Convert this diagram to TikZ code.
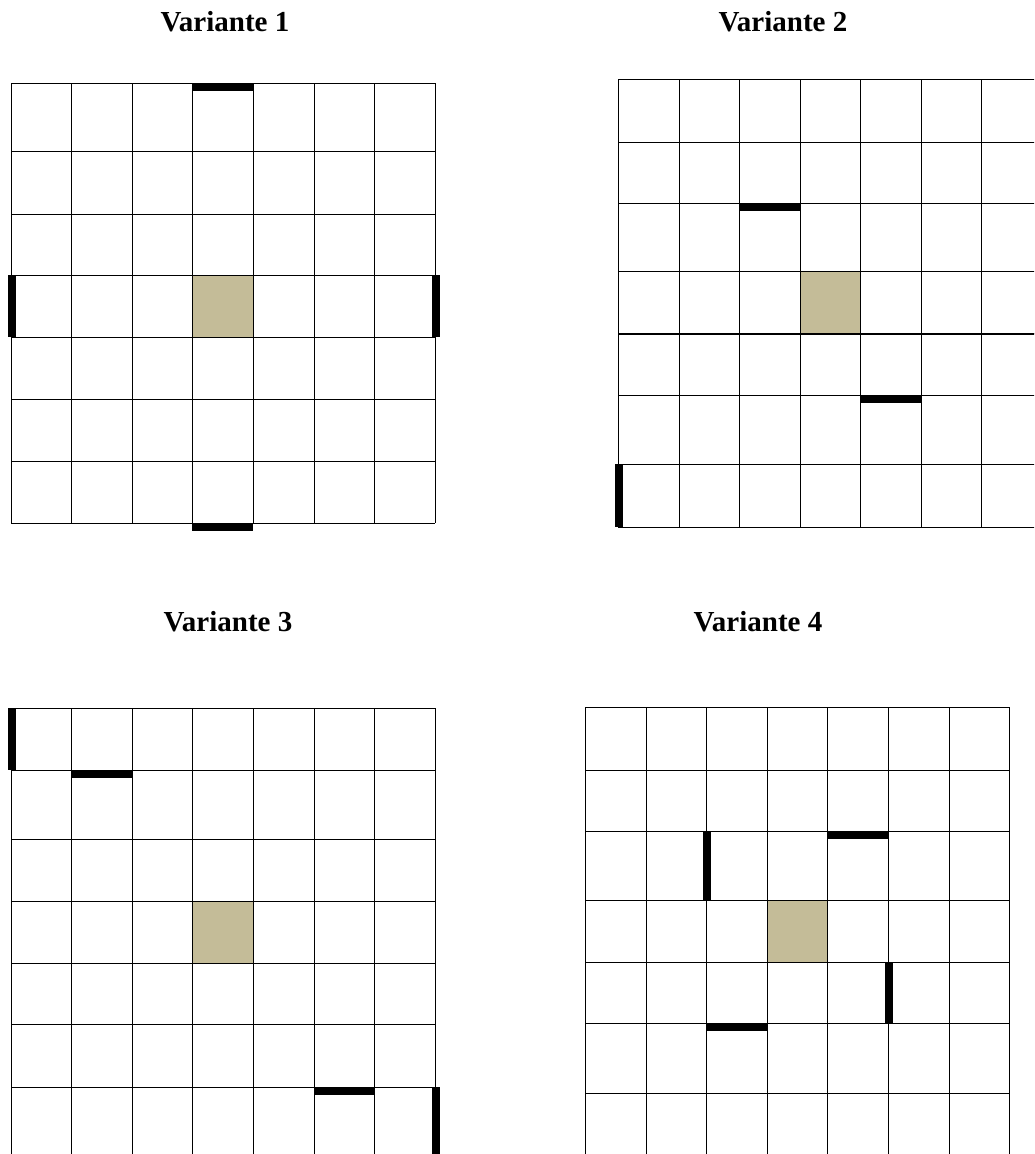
\documentclass[tikz,border=0pt]{standalone}
\usepackage{fontspec}
\setmainfont{Liberation Serif}
\definecolor{tan}{RGB}{196,188,152}
\tikzset{
  gridline/.style={line width=1pt, black},
  heavyline/.style={line width=2pt, black},
  wallbar/.style={fill=black, draw=none},
  goalcell/.style={fill=tan, draw=none},
  title/.style={anchor=base, inner sep=0pt, font=\bfseries\fontsize{29}{29}\selectfont}
}
\newcommand{\drawgridlines}[2]{%
  \def\xs{#1}\def\ys{#2}%
  \foreach \x in \xs {\foreach \y [count=\i] in \ys {\ifnum\i=1 \xdef\ytop{\y}\fi \xdef\ybot{\y}}%
     \draw[gridline] (\x,\ytop) -- (\x,\ybot);}%
  \foreach \y in \ys {\foreach \x [count=\i] in \xs {\ifnum\i=1 \xdef\xleft{\x}\fi \xdef\xright{\x}}%
     \draw[gridline] (\xleft,\y) -- (\xright,\y);}%
}
\begin{document}
\begin{tikzpicture}[x=1pt, y=-1pt]
\useasboundingbox (0,0) rectangle (1034,1154);
\clip (0,0) rectangle (1034,1154);
\fill[white] (0,0) rectangle (1034,1154);

% titles
\node[title] (t1) at (225,31.7) {Variante 1};
\node[title] (t2) at (783,31.7) {Variante 2};
\node[title] (t3) at (228,631) {Variante 3};
\node[title] (t4) at (758,631) {Variante 4};

% goal cells
\fill[goalcell] (192.3,275.3) rectangle (253.3,337);
\fill[goalcell] (800.3,271.3) rectangle (860.3,333.7);
\fill[goalcell] (192.3,901.3) rectangle (253.3,963.3);
\fill[goalcell] (767.3,900.3) rectangle (827.3,962.3);

% grids
\drawgridlines{11.3,71.3,132.3,192.3,253.3,314.3,374.3,435.3}{83.3,151,214.3,275.3,337,399.3,461.3,523}
\drawgridlines{618.3,679.3,739.3,800.3,860.3,921.3,981.3,1042}{79.3,142,203.3,271.3,333.7,395,464,527}
\drawgridlines{11.3,71.3,132.3,192.3,253.3,314.3,374.3,435.3}{708.3,770.3,839.3,901.3,963.3,1024.3,1087.3,1160}
\drawgridlines{585.3,646.3,706.3,767.3,827.3,888.3,949.3,1009.3}{707.3,770.3,831.3,900.3,962.3,1023.3,1093.3,1160}

% heavier line in Variante 2
\draw[heavyline] (618.3,333.7) -- (1042,333.7);

% walls Variante 1
\fill[wallbar] (192.3,83.3) rectangle (253.3,90.8);
\fill[wallbar] (192.3,523) rectangle (252.7,530.7);
\fill[wallbar] (8,275.3) rectangle (16,337);
\fill[wallbar] (432,275.3) rectangle (440,337);

% walls Variante 2
\fill[wallbar] (739.3,203.3) rectangle (800.3,210.8);
\fill[wallbar] (860.3,395) rectangle (921.3,402.7);
\fill[wallbar] (615,464) rectangle (623,527);

% walls Variante 3
\fill[wallbar] (8,708.3) rectangle (16,770.3);
\fill[wallbar] (71.3,770.3) rectangle (132.3,778);
\fill[wallbar] (314.3,1087.3) rectangle (374.3,1095);
\fill[wallbar] (432,1087.3) rectangle (440,1160);

% walls Variante 4
\fill[wallbar] (702.5,831.3) rectangle (710.5,900.3);
\fill[wallbar] (827.3,831.3) rectangle (888.3,839);
\fill[wallbar] (885,962.3) rectangle (893,1023.3);
\fill[wallbar] (706.3,1023.3) rectangle (767.3,1031);
\end{tikzpicture}
\end{document}
